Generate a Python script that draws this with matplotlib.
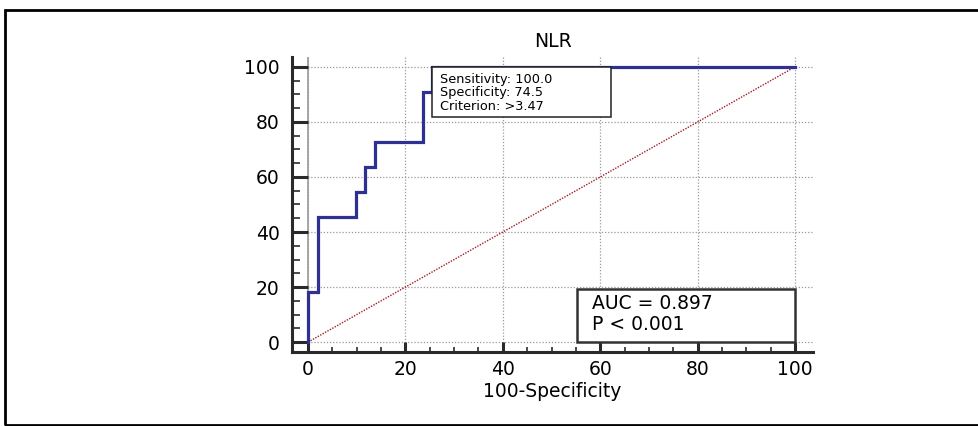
import numpy as np
import matplotlib.pyplot as plt
from matplotlib.patches import Rectangle
from matplotlib.ticker import MultipleLocator

plt.rcParams['font.family'] = ['DejaVu Sans']

# ROC curve steps (100-Specificity, Sensitivity)
fpr = [0, 0, 1.96, 1.96, 9.80, 9.80, 11.76, 11.76, 13.73, 13.73, 23.53, 23.53, 25.49, 25.49, 100]
tpr = [0, 18.18, 18.18, 45.45, 45.45, 54.55, 54.55, 63.64, 63.64, 72.73, 72.73, 90.91, 90.91, 100, 100]
ticks = [0, 20, 40, 60, 80, 100]
title = 'NLR'
xlabel = '100-Specificity'
crit_lines = ['Sensitivity: 100.0', 'Specificity: 74.5', 'Criterion: >3.47']
auc_lines = ['AUC = 0.897', 'P < 0.001']

FS = 13.5

fig = plt.figure(figsize=(9.79, 4.26), dpi=100)
ax = fig.add_axes([292 / 979, 1 - 352 / 426, 521 / 979, 295 / 426])

# outer frame
fig.patches.append(Rectangle((5 / 979, 1 / 426), 1.0, 415.5 / 426, transform=fig.transFigure,
                             fill=False, edgecolor='black', linewidth=2, clip_on=False))

ax.set_xlim(-3.3, 103.7)
ax.set_ylim(-3.6, 103.6)

for v in ticks:
    ax.axhline(v, color='#9a9a9a', linestyle=(0, (1, 1.5)), linewidth=0.9, zorder=1)
    ax.axvline(v, color='#9a9a9a', linestyle=(0, (1, 1.5)), linewidth=0.9, zorder=1)
ax.axvline(0, color='#a0a0a0', linewidth=1.3, zorder=1)

ax.plot([0, 100], [0, 100], color='#a01c24', linestyle=(0, (1, 1)), linewidth=1.0, zorder=2)
ax.plot(fpr, tpr, color='#2e3192', linewidth=2.3, zorder=3, solid_joinstyle='miter')

for s in ['top', 'right']:
    ax.spines[s].set_visible(False)
for s in ['left', 'bottom']:
    ax.spines[s].set_color('#2a2a2a')
    ax.spines[s].set_linewidth(2.2)

ax.set_xticks(ticks)
ax.set_yticks(ticks)
ax.xaxis.set_minor_locator(MultipleLocator(5))
ax.yaxis.set_minor_locator(MultipleLocator(5))
ax.tick_params(axis='y', which='major', direction='in', length=11.5, width=2.2, color='#2a2a2a',
               labelsize=FS, pad=9)
ax.tick_params(axis='y', which='minor', direction='in', length=6, width=1.2, color='#2a2a2a')
ax.tick_params(axis='x', which='major', direction='in', length=7, width=2.2, color='#2a2a2a',
               labelsize=FS, pad=6)
ax.tick_params(axis='x', which='minor', direction='in', length=3.5, width=1.2, color='#2a2a2a')

ax.set_title(title, fontsize=FS, pad=7)
ax.set_xlabel(xlabel, fontsize=FS, labelpad=2)

# criterion box anchored at the point where sensitivity reaches 100
cx = fpr[tpr.index(100)]
ax.add_patch(Rectangle((cx, 81.7), 36.7, 18.3, facecolor='white', edgecolor='#222222',
                       linewidth=1.1, zorder=4))
for i, line in enumerate(crit_lines):
    ax.text(cx + 1.7, 94.3 - i * 4.9, line, fontsize=9.3, va='baseline', ha='left', zorder=5)

# AUC box in lower-right corner
ax.add_patch(Rectangle((55.3, 0), 44.7, 19.3, facecolor='white', edgecolor='#333333',
                       linewidth=1.8, zorder=4))
for i, line in enumerate(auc_lines):
    ax.text(58.3, 12.0 - i * 7.6, line, fontsize=FS, va='baseline', ha='left', zorder=5)

fig.savefig('out.png', dpi=100)
